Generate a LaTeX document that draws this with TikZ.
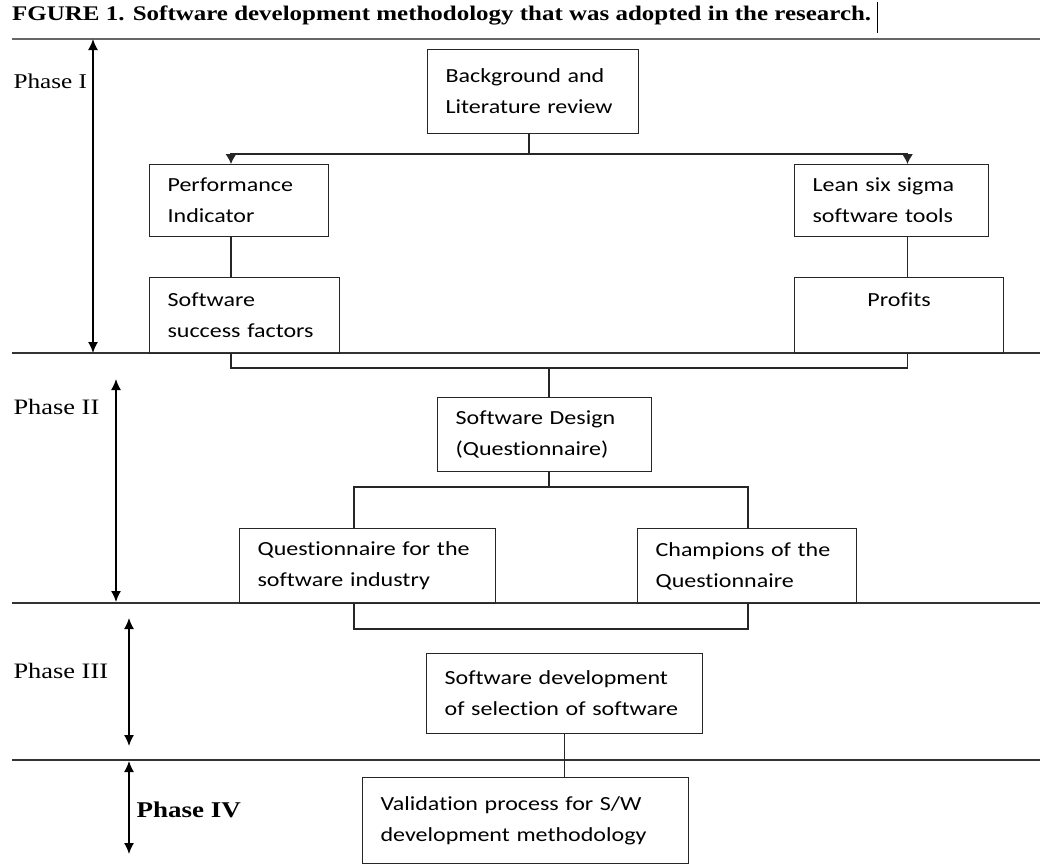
\documentclass[tikz,border=0pt]{standalone}
\usepackage{fontspec}
\setmainfont{Liberation Serif}[FakeStretch=1.2]
\newfontfamily\boxfont{Carlito}[FakeStretch=1.2,Ligatures=NoCommon]
\usetikzlibrary{arrows.meta}

\newcommand*{\xleft}{12}
\newcommand*{\xright}{1040}

\begin{document}
\begin{tikzpicture}
[
	x=1pt, y=-1pt,
	box/.style={draw,line width=1.2pt,black!85,text=black,inner xsep=18pt,inner ysep=0pt,
	  align=left,anchor=north west,font=\boxfont\fontsize{20}{31}\selectfont},
	link/.style={line width=1.2pt,black!85},
	tiplink/.style={link,-{Latex[length=10pt,width=11pt]}},
	phaseline/.style={line width=1.3pt,black!80},
	phasearrow/.style={line width=1.4pt,{Latex[length=11pt,width=10pt]}-{Latex[length=11pt,width=10pt]}},
	phaselabel/.style={anchor=base west,font=\fontsize{22}{26}\selectfont}
]
	\useasboundingbox (0,0) rectangle (1040,865);

	% title
	\node[anchor=base west,inner sep=0pt,font=\bfseries\fontsize{20.8}{25}\selectfont] (title) at (12,20)
	  {FGURE 1. Software development methodology that was adopted in the research.};
	\draw[line width=1pt] (877,2) -- (877,33);

	% phases
	\draw[line width=2.2pt,black!60] (\xleft,39) -- (\xright,39);
	\foreach \yy in {353,603,760}
	  \draw[phaseline] (\xleft,\yy) -- (\xright,\yy);

	\draw[phasearrow] (93,39) -- (93,353);
	\draw[phasearrow] (116,379) -- (116,602);
	\draw[phasearrow] (129,618) -- (129,746);
	\draw[phasearrow] (129,761) -- (129,854);

	\node[phaselabel,font=\fontsize{21}{26}\selectfont] (ph1) at (10,88) {Phase I};
	\node[phaselabel] (ph2) at (10,414) {Phase II};
	\node[phaselabel] (ph3) at (10,678) {Phase III};
	\node[phaselabel,font=\bfseries\fontsize{22.5}{26}\selectfont] (ph4) at (133,817) {Phase IV};

	% boxes
	\node[box,text width=175pt,minimum height=84pt] (bg) at (427,49) {Background and\\Literature review};
	\node[box,text width=143pt,minimum height=72pt] (perf) at (149,164) {Performance\\Indicator};
	\node[box,text width=158pt,minimum height=72pt] (lean) at (794,164) {Lean six sigma\\software tools};
	\node[box,text width=154pt,minimum height=76pt] (ssf) at (149,277) {Software\\success factors};
	\node[box,text width=173pt,minimum height=76pt,align=center] (prof) at (794,277) {Profits\\\mbox{}};
	\node[box,text width=178pt,minimum height=74pt] (design) at (437,397) {Software Design\\(Questionnaire)};
	\node[box,text width=220pt,minimum height=75pt] (qsi) at (239,528) {Questionnaire for the\\software industry};
	\node[box,text width=183pt,minimum height=75pt] (champ) at (637,528) {Champions of the\\Questionnaire};
	\node[box,text width=240pt,minimum height=80pt] (sdev) at (426,653) {\mbox{Software development}\\\mbox{of selection of software}};
	\node[box,text width=290pt,minimum height=86pt] (valid) at (362,777) {Validation process for S/W\\development methodology};

	% connectors
	\coordinate (colL) at (231,0);
	\coordinate (colR) at (907.5,0);
	\coordinate (colQ) at (354,0);
	\coordinate (colC) at (748,0);
	\coordinate (fork1) at (529,154);
	\coordinate (join1) at (549,368);
	\coordinate (fork2) at (549,487);
	\coordinate (join2) at (549,629);

	\draw[link] (bg.south -| fork1) -- (fork1);
	\draw[tiplink] (fork1) -| (perf.north -| colL);
	\draw[tiplink] (fork1) -| (lean.north -| colR);
	\draw[link] (perf.south -| colL) -- (ssf.north -| colL);
	\draw[link] (lean.south -| colR) -- (prof.north -| colR);

	\draw[link] (ssf.south -| colL) |- (join1) -| (prof.south -| colR);
	\draw[link] (join1) -- (design.north -| join1);

	\draw[link] (design.south -| fork2) -- (fork2);
	\draw[link] (qsi.north -| colQ) |- (fork2) -| (champ.north -| colC);

	\draw[link] (qsi.south -| colQ) |- (join2) -| (champ.south -| colC);

	\draw[link] (sdev.south) -- (valid.north -| sdev.south);

\end{tikzpicture}
\end{document}
